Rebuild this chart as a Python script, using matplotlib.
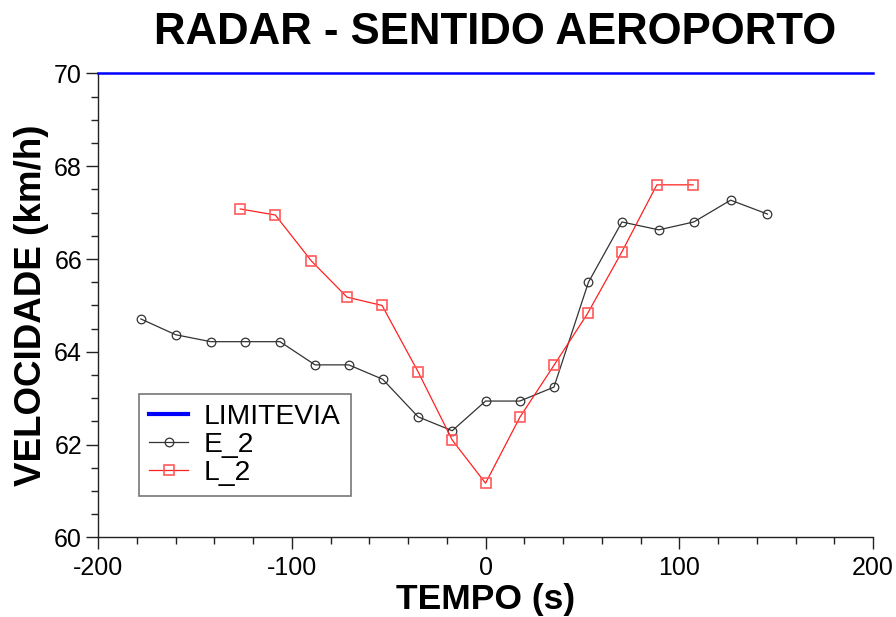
"""Radar speed profile, airport direction: E_2 vs L_2 against the road limit."""
import matplotlib.pyplot as plt
from matplotlib.ticker import MultipleLocator

plt.rcParams["font.family"] = ["Liberation Sans", "DejaVu Sans"]
plt.rcParams["axes.unicode_minus"] = False

# --- Data ---
tempo_e2 = [-177.9, -160.0, -141.8, -124.4, -106.1, -88.0, -70.6, -53.1, -34.8,
            -17.2, 0.0, 17.7, 35.3, 53.1, 70.4, 89.4, 107.5, 126.5, 145.5]
vel_e2 = [64.71, 64.37, 64.22, 64.22, 64.22, 63.72, 63.72, 63.41, 62.60,
          62.30, 62.94, 62.94, 63.24, 65.50, 66.80, 66.63, 66.80, 67.27, 66.97]

tempo_l2 = [-126.6, -108.5, -89.9, -71.5, -53.4, -34.8, -17.2, 0.0, 17.7,
            35.3, 52.7, 70.3, 88.4, 107.1]
vel_l2 = [67.08, 66.95, 65.96, 65.18, 65.00, 63.57, 62.10, 61.17, 62.59,
          63.71, 64.83, 66.15, 67.60, 67.60]

tempo_lim = [-200, 200]
vel_lim = [70, 70]

fig = plt.figure(figsize=(8.96, 6.17), dpi=100)
ax = fig.add_axes([0.1094, 0.1289, 0.8650, 0.7520])

ax.plot(tempo_lim, vel_lim, color="#0000ff", lw=1.8, label="LIMITEVIA", zorder=3,
        clip_on=False)
ax.plot(tempo_e2, vel_e2, color="#333333", lw=0.9, marker="o", ms=6.2,
        mfc="none", mec="#333333", mew=0.9, label="E_2", zorder=4)
ax.plot(tempo_l2, vel_l2, color="#ff2020", lw=0.9, marker="s", ms=7.8,
        mfc="none", mec="#ff5a5a", mew=1.2, label="L_2", zorder=5)

ax.set_xlim(-200, 200)
ax.set_ylim(60, 70)
ax.xaxis.set_major_locator(MultipleLocator(100))
ax.xaxis.set_minor_locator(MultipleLocator(20))
ax.yaxis.set_major_locator(MultipleLocator(2))
ax.yaxis.set_minor_locator(MultipleLocator(0.5))

for side in ("top", "right"):
    ax.spines[side].set_visible(False)
for side in ("left", "bottom"):
    ax.spines[side].set_linewidth(1.0)
    ax.spines[side].set_color("#222222")

ax.tick_params(which="major", direction="out", length=8.5, width=1.0,
               labelsize=18, pad=3, color="#222222")
ax.tick_params(axis="x", which="major", pad=5)
ax.tick_params(which="minor", direction="out", length=5, width=1.0,
               color="#222222")

# title centred a little right of the axes centre
fig.text(495 / 896, 1 - 32 / 617, "RADAR - SENTIDO AEROPORTO", fontsize=31.5,
         fontweight="bold", ha="center", va="center")
ax.set_xlabel("TEMPO (s)", fontsize=25.5, fontweight="bold", labelpad=2)
ax.set_ylabel("VELOCIDADE (km/h)", fontsize=26.5, fontweight="bold", labelpad=4)

leg = ax.legend(loc="lower left", bbox_to_anchor=(0.053, 0.089), fontsize=20.3,
                frameon=True, fancybox=False, handlelength=1.4,
                handletextpad=0.55, borderpad=0.35, labelspacing=0.08,
                borderaxespad=0)
leg.get_frame().set_edgecolor("#555555")
leg.get_frame().set_linewidth(1.2)
leg.get_lines()[0].set_linewidth(3)

fig.savefig("out.png", dpi=100)
